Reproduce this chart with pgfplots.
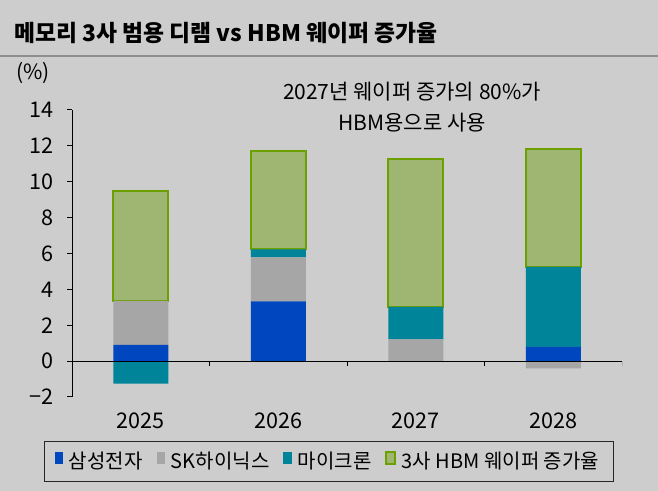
\documentclass[border=0pt]{standalone}
\usepackage{fontspec}
\setmainfont{Noto Sans CJK KR}
\usepackage{pgfplots}
\usepackage{pgfplotstable}
\pgfplotsset{compat=1.18}
\definecolor{bg}{HTML}{CDCDCD}
\definecolor{ss}{HTML}{0046BE}
\definecolor{sk}{HTML}{A6A6A6}
\definecolor{mu}{HTML}{00849A}
\definecolor{hbmfill}{HTML}{9FB672}
\definecolor{hbmline}{HTML}{6CA000}
\definecolor{sep}{HTML}{8E8E8E}

\pgfplotstableread{
x ss sk mu hbm
0 0.90 2.46 0 6.12
1 3.33 2.45 0.45 5.48
2 0 1.21 1.82 8.23
3 0.80 0 4.46 6.54
}\posdata
\pgfplotstableread{
x mu sk
0 -1.25 0
3 0 -0.41
}\negdata

\pgfplotsset{common/.style={scale only axis, width=275pt, height=143.5pt,
  xmin=-0.5, xmax=3.5, ymin=-2, ymax=14, at={(36pt,47pt)}, anchor=south west}}

\begin{document}
\begin{tikzpicture}
\fill[bg] (0,0) rectangle (329pt,245.5pt);
\draw[sep, line width=0.6pt] (0,217.5pt) -- (329pt,217.5pt);
\node[anchor=west, inner sep=0, font=\bfseries\fontsize{11.4}{13}\selectfont] at (7pt,229pt) {메모리 3사 범용 디램 vs HBM 웨이퍼 증가율};
\node[inner sep=0, font=\fontsize{10.5}{12}\selectfont] at (16.5pt,209pt) {(\%)};
\node[align=center, inner sep=0, font=\fontsize{10.5}{15.5}\selectfont] at (206pt,191.75pt) {2027년 웨이퍼 증가의 80\%가\\HBM용으로 사용};

\begin{axis}[common, ybar stacked, bar width=27.5pt,
  axis y line*=left, axis x line*=bottom,
  x axis line style={draw=none}, y axis line style={-, black, line width=0.5pt},
  ytick={-2,0,2,4,6,8,10,12,14}, yticklabels={−2,0,2,4,6,8,10,12,14},
  tick align=outside, ytick style={black, line width=0.5pt}, major tick length=2.5pt,
  xtick={0,1,2,3}, xticklabels={2025,2026,2027,2028}, xtick style={draw=none},
  tick label style={font=\fontsize{10.8}{12}\selectfont},
  yticklabel style={xshift=-3pt},
  xticklabel style={yshift=-2pt},
  legend style={at={(0.467,-0.2247)}, anchor=center, legend columns=4,
    draw=black!85, fill=bg, line width=0.5pt, font=\fontsize{10}{11}\selectfont,
    /tikz/every even column/.append style={column sep=5pt},
    /tikz/every odd column/.append style={column sep=1pt},
    inner xsep=5pt, inner ysep=3pt},
  legend image code/.code={\path[#1] (0.1em,-0.12em) rectangle (0.52em,0.45em);},
]
\addplot[fill=ss, draw=none] table[x=x,y=ss]{\posdata};
\addplot[fill=sk, draw=none] table[x=x,y=sk]{\posdata};
\addplot[fill=mu, draw=none] table[x=x,y=mu]{\posdata};
\addplot[fill=hbmfill, draw=hbmline, line width=1pt] table[x=x,y=hbm]{\posdata};
\legend{삼성전자, SK하이닉스, 마이크론, 3사 HBM 웨이퍼 증가율}
\end{axis}

\begin{axis}[common, hide axis, ybar, bar width=27.5pt, bar shift=0pt]
\addplot[fill=mu, draw=none] table[x=x,y=mu]{\negdata};
\addplot[fill=sk, draw=none] table[x=x,y=sk]{\negdata};
\draw[black, line width=0.5pt] ([xshift=-2.5pt]axis cs:-0.5,0) -- (axis cs:3.5,0);
\pgfplotsinvokeforeach{0.5,1.5,2.5,3.5}{\draw[black, line width=0.5pt] (axis cs:#1,0) -- ([yshift=-2.2pt]axis cs:#1,0);}
\end{axis}
\pgfresetboundingbox
\useasboundingbox (0,0) rectangle (329pt,245.5pt);
\end{tikzpicture}
\end{document}
